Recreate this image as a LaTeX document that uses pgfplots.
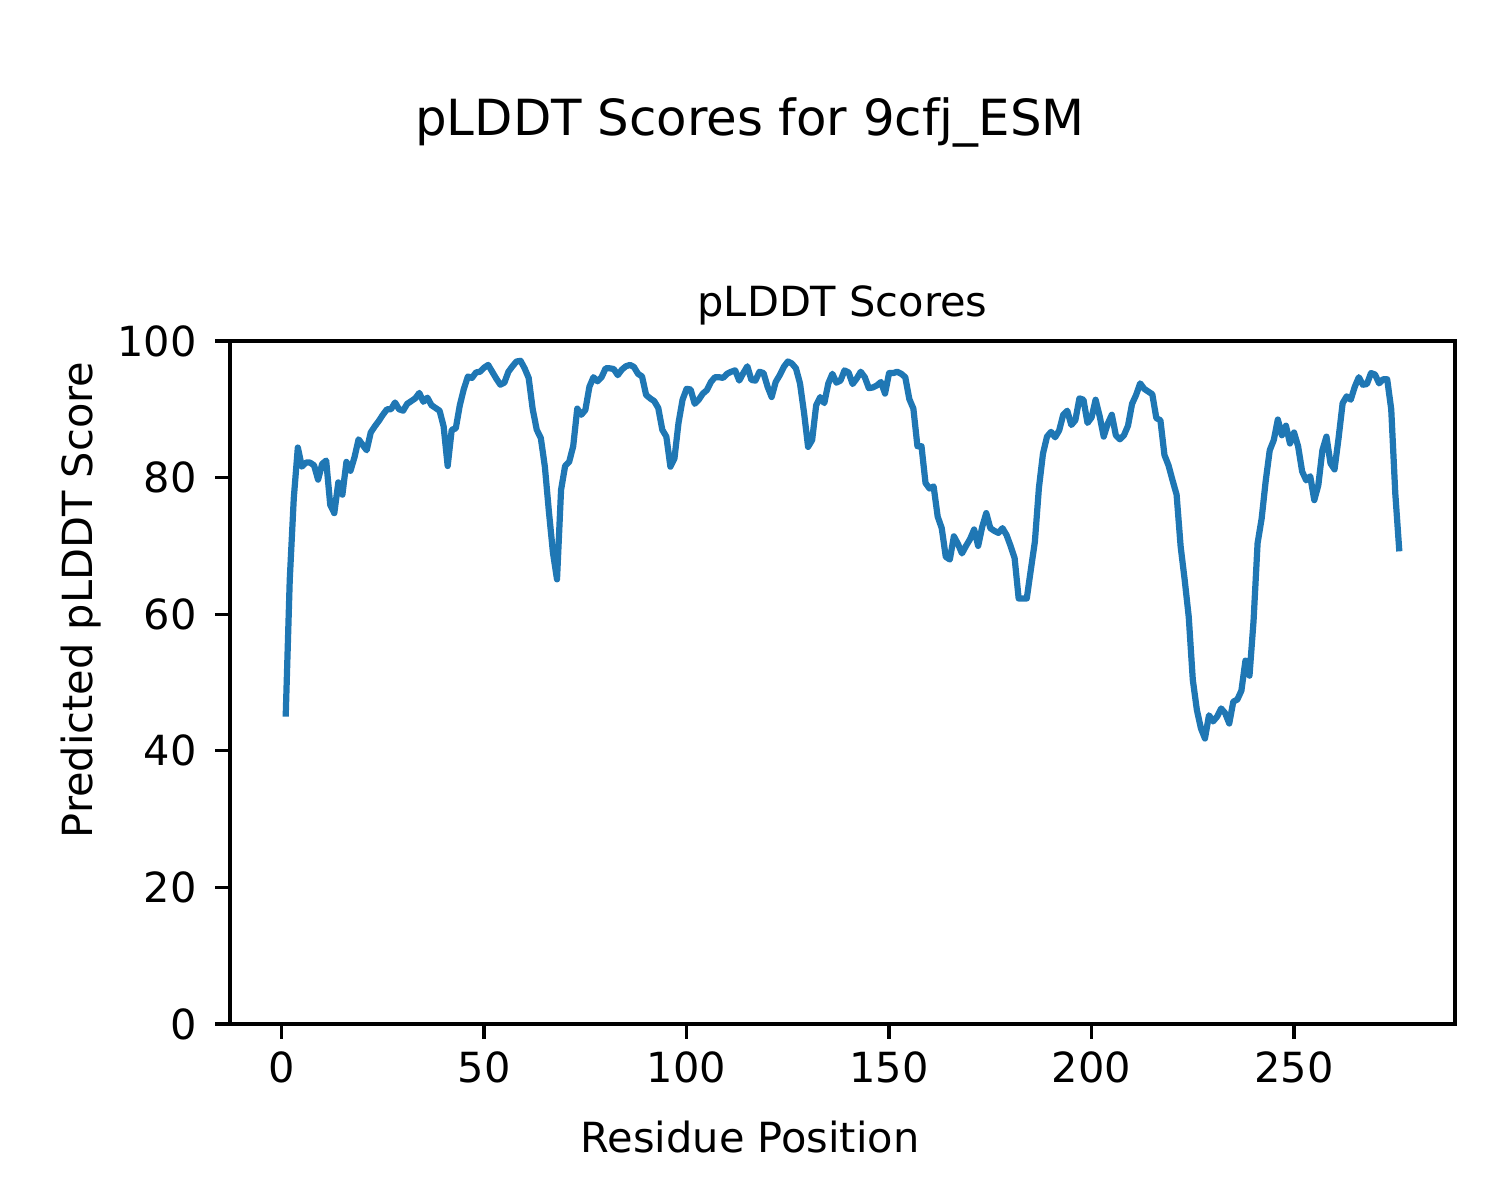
\documentclass[border=0pt]{standalone}
\usepackage{pgfplots}
\pgfplotsset{compat=1.18}
\usepackage{fontspec}
\setmainfont{DejaVu Sans}
\definecolor{tabblue}{RGB}{31,119,180}
\begin{document}
\begin{tikzpicture}
\begin{axis}[
  at={(0,0)}, anchor=south west,
  scale only axis, width=295.10pt, height=164.53pt,
  xmin=-12.75, xmax=289.75, ymin=0, ymax=100,
  xtick={0,50,100,150,200,250}, ytick={0,20,40,60,80,100},
  tick align=outside, major tick length=3.5pt,
  axis line style={line width=0.8pt}, every tick/.style={line width=0.8pt, black},
  xtick pos=bottom, ytick pos=left,
  /pgf/number format/assume math mode=true,
  ticklabel style={font=\fontsize{10}{12}\selectfont},
  xticklabel style={anchor=base, inner sep=0pt, yshift=-10.7pt},
  yticklabel style={anchor=east, inner sep=0pt, xshift=-4.3pt},
  title={pLDDT Scores},
  title style={at={(axis description cs:0.5,1)}, anchor=base, yshift=0pt, inner sep=0pt, font=\fontsize{10}{12}\selectfont},
]
\addplot[color=tabblue, line width=1.5pt, line join=round] coordinates {
(1,45.0) (2,65) (3,77) (4,84.4) (5,81.6) (6,82.2) (7,82.2) (8,81.8) (9,79.7) (10,82)
(11,82.5) (12,76) (13,74.8) (14,79.3) (15,77.5) (16,82.3) (17,81) (18,83) (19,85.6) (20,84.8)
(21,84) (22,86.6) (23,87.5) (24,88.3) (25,89.2) (26,90) (27,90) (28,91) (29,90) (30,89.8)
(31,90.8) (32,91.2) (33,91.6) (34,92.4) (35,91.1) (36,91.7) (37,90.6) (38,90.2) (39,89.8) (40,87.5)
(41,81.7) (42,87) (43,87.2) (44,90.6) (45,93) (46,94.8) (47,94.6) (48,95.4) (49,95.5) (50,96.1)
(51,96.5) (52,95.5) (53,94.5) (54,93.6) (55,93.9) (56,95.5) (57,96.3) (58,97.0) (59,97.1) (60,96)
(61,94.6) (62,90) (63,87) (64,85.8) (65,81.6) (66,75) (67,69) (68,65.1) (69,78.2) (70,81.7)
(71,82.3) (72,84.6) (73,90.1) (74,89.2) (75,89.9) (76,93.3) (77,94.7) (78,94.1) (79,94.7) (80,96)
(81,96) (82,95.9) (83,95) (84,95.8) (85,96.3) (86,96.5) (87,96.2) (88,95.2) (89,94.8) (90,92.1)
(91,91.6) (92,91.2) (93,90.2) (94,87) (95,86) (96,81.6) (97,82.8) (98,88) (99,91.4) (100,93)
(101,92.9) (102,90.8) (103,91.4) (104,92.3) (105,92.8) (106,94) (107,94.7) (108,94.7) (109,94.6) (110,95.2)
(111,95.5) (112,95.7) (113,94.2) (114,95.3) (115,96.3) (116,94.3) (117,94.2) (118,95.5) (119,95.3) (120,93.3)
(121,91.8) (122,94) (123,95) (124,96.2) (125,97) (126,96.7) (127,96) (128,93.8) (129,89.5) (130,84.5)
(131,85.5) (132,90.6) (133,91.8) (134,90.9) (135,93.8) (136,95.2) (137,93.9) (138,94.2) (139,95.7) (140,95.4)
(141,93.7) (142,94.5) (143,95.5) (144,94.7) (145,93.1) (146,93.2) (147,93.5) (148,94) (149,92.3) (150,95.3)
(151,95.3) (152,95.5) (153,95.2) (154,94.7) (155,91.5) (156,90.1) (157,84.6) (158,84.6) (159,79.2) (160,78.4)
(161,78.7) (162,74.3) (163,72.6) (164,68.4) (165,68) (166,71.4) (167,70.3) (168,68.9) (169,70) (170,71)
(171,72.4) (172,70) (173,72.8) (174,74.8) (175,72.6) (176,72.2) (177,71.9) (178,72.6) (179,71.6) (180,70)
(181,68.2) (182,62.3) (183,62.3) (184,62.3) (185,66.5) (186,70.6) (187,78.5) (188,83.5) (189,86) (190,86.7)
(191,85.9) (192,86.9) (193,89.2) (194,89.8) (195,87.7) (196,88.4) (197,91.6) (198,91.4) (199,88) (200,88.8)
(201,91.4) (202,89) (203,86) (204,87.9) (205,89.2) (206,86.2) (207,85.6) (208,86.2) (209,87.6) (210,90.8)
(211,92.1) (212,93.8) (213,93) (214,92.6) (215,92.2) (216,88.7) (217,88.4) (218,83.3) (219,81.8) (220,79.6)
(221,77.5) (222,69.9) (223,65) (224,59.6) (225,50.4) (226,46) (227,43.3) (228,41.8) (229,45.2) (230,44.3)
(231,45) (232,46.2) (233,45.5) (234,44) (235,47.2) (236,47.5) (237,48.8) (238,53.2) (239,51) (240,59)
(241,70.4) (242,74) (243,79.5) (244,84) (245,85.5) (246,88.5) (247,86.2) (248,87.6) (249,85) (250,86.6)
(251,84.6) (252,80.9) (253,79.6) (254,80.2) (255,76.7) (256,78.9) (257,84) (258,86) (259,82.1) (260,81.2)
(261,85.8) (262,90.9) (263,91.9) (264,91.4) (265,93.3) (266,94.7) (267,93.6) (268,93.7) (269,95.3) (270,95.1)
(271,93.8) (272,94.4) (273,94.4) (274,90) (275,77.7) (276,69.2)
};
\end{axis}
\node[anchor=base, inner sep=0pt, font=\fontsize{12}{14}\selectfont] at (125.27pt,213.92pt) {pLDDT Scores for 9cfj\_ESM};
\node[anchor=base, inner sep=0pt, font=\fontsize{10}{12}\selectfont] at (125.27pt,-30.84pt) {Residue Position};
\node[anchor=base, inner sep=0pt, rotate=90, font=\fontsize{10}{12}\selectfont] at (-33.24pt,102.14pt) {Predicted pLDDT Score};
\path[use as bounding box] (-55.41pt,-42.40pt) rectangle (305.94pt,246.68pt);
\end{tikzpicture}
\end{document}
